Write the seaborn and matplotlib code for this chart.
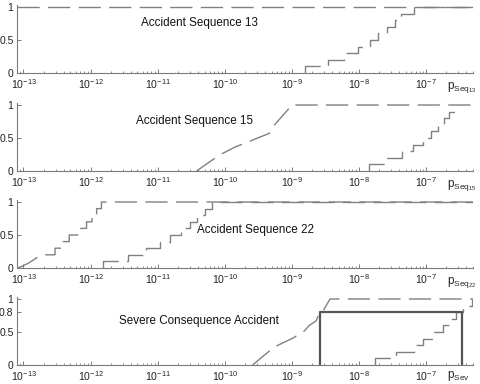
import numpy as np
import pandas as pd
import seaborn as sns
import matplotlib.pyplot as plt
from matplotlib.ticker import NullFormatter, FixedLocator, LogFormatterSciNotation

# x range of every panel
X_MIN, X_MAX = 8e-14, 5e-7
DECADES = [1e-13, 1e-12, 1e-11, 1e-10, 1e-9, 1e-8, 1e-7]
LEVELS = [0.1, 0.2, 0.3, 0.4, 0.5, 0.6, 0.7, 0.8, 0.9, 1.0]

# Accident Sequence 13
seq13_upper_x = [X_MIN, X_MAX]
seq13_upper_y = [1.0, 1.0]
seq13_lower_steps = [1.58e-9, 3.47e-9, 6.0e-9, 9.8e-9, 1.45e-8,
                     1.9e-8, 2.6e-8, 3.4e-8, 4.3e-8, 6.6e-8]

# Accident Sequence 15
seq15_upper_x = [3.8e-11, 5.6e-11, 8.3e-11, 1.4e-10, 2.2e-10, 4.6e-10,
                 5.1e-10, 9.1e-10, 1.0e-9, X_MAX]
seq15_upper_y = [0.0, 0.12, 0.24, 0.36, 0.44, 0.57, 0.66, 0.95, 1.0, 1.0]
seq15_lower_steps = [1.41e-8, 2.5e-8, 4.4e-8, 6.3e-8, 8.9e-8,
                     1.17e-7, 1.51e-7, 1.82e-7, 2.19e-7]
seq15_lower_end = 3.0e-7

# Accident Sequence 22
seq22_upper_smooth_x = [8.3e-14, 1.17e-13, 1.66e-13, 2.1e-13]
seq22_upper_smooth_y = [0.0, 0.07, 0.17, 0.2]
seq22_upper_steps = [2.95e-13, 3.7e-13, 4.8e-13, 6.6e-13, 8.7e-13,
                     1.05e-12, 1.23e-12, 1.45e-12]
seq22_lower_steps = [1.55e-12, 3.6e-12, 6.8e-12, 1.07e-11, 1.55e-11,
                     2.2e-11, 3.0e-11, 3.8e-11, 5.0e-11, 6.5e-11]

# Severe Consequence Accident
sev_upper_x = [2.6e-10, 5.4e-10, 1.0e-9, 1.48e-9, 1.82e-9, 2.3e-9,
               2.6e-9, 3.0e-9, 3.7e-9, X_MAX]
sev_upper_y = [0.0, 0.27, 0.4, 0.5, 0.6, 0.67, 0.8, 0.84, 1.0, 1.0]
sev_lower_steps = [1.74e-8, 3.6e-8, 6.5e-8, 8.9e-8, 1.26e-7,
                   1.78e-7, 2.24e-7, 2.8e-7, 3.55e-7, 4.8e-7]
sev_interval = [2.6e-9, 3.4e-7]
sev_interval_height = 0.8

CURVE = "#808080"
DASH = (0, (16, 6))


def staircase(steps, levels, start=0.0, end=None):
    xs, ys = [], []
    prev = start
    for s, lv in zip(steps, levels):
        xs += [s, s]
        ys += [prev, lv]
        prev = lv
    if end is not None:
        xs.append(end)
        ys.append(prev)
    return xs, ys


def draw(ax, xs, ys, **kw):
    df = pd.DataFrame({"x": xs, "y": ys})
    sns.lineplot(data=df, x="x", y="y", ax=ax, sort=False, estimator=None, **kw)


def style_axis(ax, yticks, ylabels, xlabel, label_drop=5):
    ax.set_xscale("log")
    ax.set_xlim(X_MIN, X_MAX)
    ax.set_ylim(0, 1.03)
    minors = [d * k for d in [1e-14] + DECADES for k in range(2, 10)]
    minors = [m for m in minors if X_MIN <= m <= X_MAX]
    ax.xaxis.set_major_locator(FixedLocator(DECADES))
    ax.xaxis.set_major_formatter(LogFormatterSciNotation())
    ax.xaxis.set_minor_locator(FixedLocator(minors))
    ax.xaxis.set_minor_formatter(NullFormatter())
    ax.yaxis.set_major_locator(FixedLocator(yticks))
    ax.set_yticklabels(ylabels)
    ax.set_xlabel("")
    ax.set_ylabel("")
    sns.despine(ax=ax)
    ax.tick_params(axis="x", which="major", labelsize=7.6, pad=3.2, length=3, width=0.7)
    ax.tick_params(axis="x", which="minor", length=1.6, width=0.6)
    ax.tick_params(axis="y", labelsize=7.5, pad=2.5, length=3, width=0.7)
    ax.annotate(xlabel, xy=(0.943, 0), xycoords="axes fraction",
                xytext=(0, -label_drop), textcoords="offset points",
                ha="left", va="top", fontsize=8.5)


sns.set_theme(style="ticks")
plt.rcParams["font.family"] = ["Liberation Sans", "DejaVu Sans"]
plt.rcParams["mathtext.fontset"] = "custom"
plt.rcParams["mathtext.rm"] = "Liberation Sans"
plt.rcParams["xtick.direction"] = "in"
plt.rcParams["ytick.direction"] = "in"
plt.rcParams["axes.edgecolor"] = "#7a7a7a"
plt.rcParams["axes.linewidth"] = 0.8
plt.rcParams["xtick.color"] = "#7a7a7a"
plt.rcParams["ytick.color"] = "#7a7a7a"
plt.rcParams["xtick.labelcolor"] = "#222222"
plt.rcParams["ytick.labelcolor"] = "#222222"

fig = plt.figure(figsize=(4.8, 3.84), dpi=100)
left, width, height = 0.0354, 0.95, 0.177
bottoms = [0.8099, 0.5547, 0.3021, 0.0495]
axes = [fig.add_axes([left, b, width, height]) for b in bottoms]

line_kw = dict(color=CURVE, linewidth=1.0, linestyle=DASH)
title_kw = dict(ha="center", va="center", fontsize=8.4, color="#111111")

# panel 1
ax = axes[0]
ax.set_xscale("log")
draw(ax, seq13_upper_x, seq13_upper_y, **line_kw)
xs, ys = staircase(seq13_lower_steps, LEVELS, end=X_MAX)
draw(ax, xs, ys, **line_kw)
style_axis(ax, [0, 0.5, 1], ["0", "0.5", "1"], r"$\mathregular{p_{Seq_{13}}}$")
ax.text(0.40, 0.74, "Accident Sequence 13", transform=ax.transAxes, **title_kw)

# panel 2
ax = axes[1]
ax.set_xscale("log")
draw(ax, seq15_upper_x, seq15_upper_y, **line_kw)
xs, ys = staircase(seq15_lower_steps, LEVELS[:9], end=seq15_lower_end)
draw(ax, xs, ys, **line_kw)
style_axis(ax, [0, 0.5, 1], ["0", "0.5", "1"], r"$\mathregular{p_{Seq_{15}}}$")
ax.text(0.39, 0.74, "Accident Sequence 15", transform=ax.transAxes, **title_kw)

# panel 3
ax = axes[2]
ax.set_xscale("log")
xs, ys = staircase(seq22_upper_steps, LEVELS[2:], start=0.2, end=X_MAX)
draw(ax, seq22_upper_smooth_x + xs, seq22_upper_smooth_y + ys, **line_kw)
xs, ys = staircase(seq22_lower_steps, LEVELS, end=X_MAX)
draw(ax, xs, ys, **line_kw)
style_axis(ax, [0, 0.5, 1], ["0", "0.5", "1"], r"$\mathregular{p_{Seq_{22}}}$")
ax.text(0.524, 0.56, "Accident Sequence 22", transform=ax.transAxes, **title_kw)

# panel 4
ax = axes[3]
ax.set_xscale("log")
draw(ax, sev_upper_x, sev_upper_y, **line_kw)
xs, ys = staircase(sev_lower_steps, LEVELS)
draw(ax, xs, ys, **line_kw)
rx = [sev_interval[0], sev_interval[0], sev_interval[1], sev_interval[1]]
ry = [0, sev_interval_height, sev_interval_height, 0]
draw(ax, rx, ry, color="#555555", linewidth=1.6)
style_axis(ax, [0, 0.5, 0.8, 1], ["0", "0.5", "0.8", "1"], r"$\mathregular{p_{Sev}}$",
           label_drop=3)
ax.text(0.40, 0.64, "Severe Consequence Accident", transform=ax.transAxes, **title_kw)

fig.savefig("out.png", dpi=100)
